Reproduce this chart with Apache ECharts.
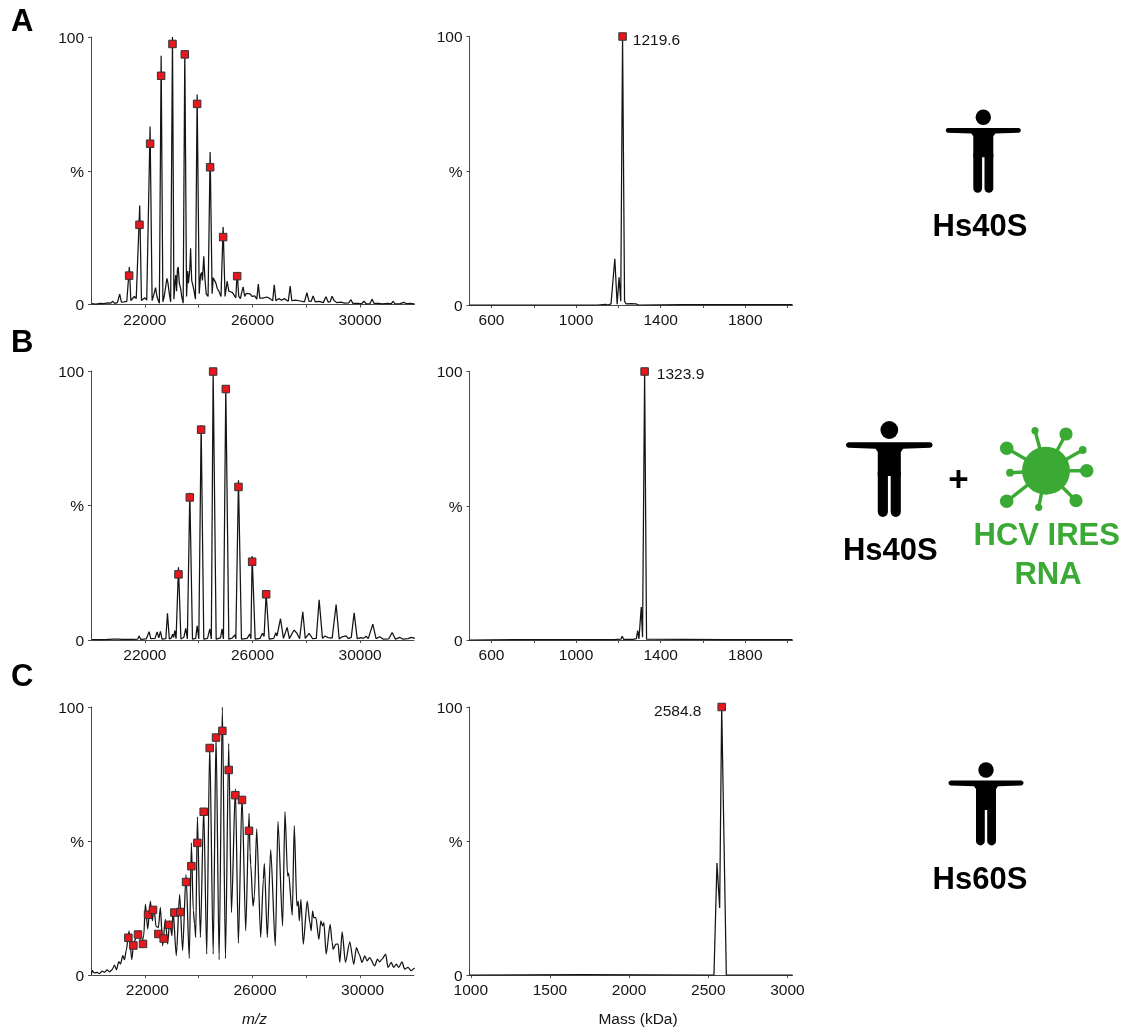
<!DOCTYPE html>
<html><head><meta charset="utf-8">
<style>html,body{margin:0;padding:0;background:#fff}#c{width:1125px;height:1029px}</style>
<script src="https://cdn.jsdelivr.net/npm/echarts@6/dist/echarts.min.js"></script>
</head><body><div id="c"></div>
<script>
// ---- Mass spectra (m/z, %) ----
const spectrumA = [[20000,.3],[20150,.1],[20300,.4],[20450,.3],[20600,.6],[20700,.5],[20780,1.2],[20850,.4],[20950,.7],[21037,3.9],[21100,.9],[21200,1],[21300,1.2],[21345,1],[21395,14],[21450,1.5],[21520,2],[21580,3],[21650,2.2],[21720,1.5],[21780,37],[21845,1.5],[21900,1.8],[21970,2.5],[22040,1.6],[22100,1],[22165,66.5],[22240,1.5],[22300,3.5],[22370,6.3],[22420,3],[22470,1.5],[22510,.5],[22576,93],[22640,1],[22690,3],[22750,7],[22790,9.8],[22830,8],[22880,4],[22930,1],[22997,100],[23050,2],[23090,8],[23120,11],[23150,5],[23180,13],[23210,14],[23250,8],[23300,6],[23340,3],[23395,.5],[23455,95],[23520,3],[23560,12.5],[23590,8],[23640,13],[23670,21],[23710,9],[23760,7],[23800,5],[23850,2],[23913,78.5],[23990,4],[24040,11],[24080,12],[24110,9],[24160,18],[24200,10],[24250,4],[24320,3],[24396,57],[24470,4],[24510,10],[24560,10],[24610,8],[24660,6],[24720,5],[24800,3],[24879,29],[24950,3],[25028,8.7],[25090,5],[25150,5.5],[25220,4.5],[25290,4],[25350,2.5],[25400,12],[25460,3],[25520,2.2],[25570,4.5],[25622,6.6],[25680,3],[25740,4.2],[25800,3.5],[25880,4],[25950,3],[26050,3.2],[26130,2],[26186,7.6],[26240,2.4],[26350,2.4],[26500,2.8],[26620,2.2],[26720,1.4],[26778,7.4],[26840,1.4],[26950,2.2],[27050,1.6],[27150,2.2],[27300,1.2],[27370,6.9],[27430,1.4],[27560,1.6],[27700,1.4],[27900,1],[27990,4.4],[28070,1.2],[28150,1.2],[28220,3.2],[28300,1],[28450,1.2],[28600,.7],[28700,2.9],[28780,.9],[28860,1.1],[28926,3.1],[29000,1.5],[29100,.7],[29250,.9],[29400,.5],[29540,.6],[29630,1.8],[29700,.4],[29900,.4],[30010,.2],[30110,1.2],[30200,.2],[30330,.3],[30410,2],[30490,.4],[30650,.4],[30800,.2],[31000,.4],[31120,.2],[31190,1.2],[31270,.2],[31450,.3],[31590,.8],[31700,.3],[31850,.4],[32000,.1]];
const markersA = [[21387,10.8],[21771,29.8],[22167,60.1],[22576,85.5],[22997,97.4],[23455,93.5],[23913,75],[24396,51.3],[24879,25.2],[25400,10.6]];

const spectrumB = [[20000,.1],[20500,.1],[20800,.3],[21000,.3],[21060,.7],[21120,.2],[21420,.2],[21480,.7],[21560,.2],[21700,.3],[21760,1.5],[21820,.2],[22020,.4],[22090,1],[22130,3.1],[22190,.5],[22350,.6],[22427,3],[22490,.8],[22550,3.2],[22610,.3],[22750,.5],[22811,9.9],[22880,.4],[22960,.8],[23000,2.2],[23040,1],[23084,3.5],[23130,.5],[23220,27],[23310,.4],[23420,1],[23490,4.3],[23550,.4],[23641,54.7],[23740,.3],[23860,.6],[23913,5.3],[23975,.4],[24062,79.8],[24160,.3],[24300,.6],[24384,4.1],[24440,.4],[24508,100],[24620,.3],[24780,.8],[24842,4.1],[24890,.4],[24978,94],[25090,.3],[25210,.7],[25250,1.1],[25313,1.9],[25350,.4],[25449,59.4],[25560,.3],[25770,.6],[25870,2.2],[25910,.5],[25957,31.2],[26070,.3],[26250,.6],[26340,2.5],[26400,1.3],[26477,17.3],[26590,.3],[26760,.6],[26836,2.7],[26880,1.5],[27010,7.9],[27120,.6],[27257,4.7],[27340,.5],[27450,2.6],[27517,3.7],[27620,2.5],[27720,.5],[27839,10.5],[27930,.6],[28074,2.5],[28200,.5],[28340,.6],[28446,14.9],[28570,.6],[28660,1.5],[28780,.9],[28930,.7],[29077,13.2],[29190,.4],[29300,1.2],[29360,.5],[29450,1.5],[29530,.5],[29640,1],[29746,10.1],[29860,.5],[30000,.9],[30090,.6],[30190,1.4],[30270,.5],[30440,5.9],[30560,.5],[30700,1.2],[30830,.3],[31030,.4],[31158,2.8],[31280,.3],[31440,1],[31560,.3],[31750,.5],[31870,1],[32000,.6]];
const markersB = [[23220,24.4],[23641,53],[24062,78.2],[24508,99.8],[24978,93.3],[25449,56.9],[25957,29.1],[26477,17]];

const spectrumC = [[20000,.4],[20025,1.6],[20111,.8],[20210,1],[20296,.5],[20395,1.4],[20482,1],[20580,1.9],[20667,1.2],[20766,2],[20852,3.7],[20926,2],[21013,5],[21075,4.1],[21161,7.2],[21223,5.7],[21285,9],[21396,16.5],[21494,5.7],[21569,12.2],[21667,14],[21754,16.5],[21840,10.9],[21939,14.6],[22001,26.4],[22087,17.1],[22186,27.6],[22260,20.2],[22322,25.2],[22396,18.1],[22483,17.7],[22557,25.2],[22643,10.9],[22742,20.8],[22828,11.5],[22902,20.2],[22989,14.6],[23026,24.5],[23149,7.2],[23273,30.1],[23384,9.1],[23511,37.5],[23631,6.2],[23709,49.3],[23780,24],[23830,19],[23870,14],[23932,59],[24044,14],[24167,62.3],[24280,7.8],[24390,86],[24520,7.8],[24625,89.6],[24740,5.7],[24860,100],[24975,6.2],[25096,86.4],[25198,23.3],[25344,69.5],[25455,11.9],[25591,66.7],[25728,16.5],[25851,60.3],[25889,45.6],[25914,41.2],[26000,25.7],[26050,29.4],[26136,54.5],[26284,14],[26383,35.6],[26420,41.6],[26531,14],[26655,46.8],[26828,10.9],[26926,57.3],[27099,18.3],[27186,61],[27285,36.9],[27322,38],[27457,22.3],[27532,55.7],[27630,25.7],[27680,27.6],[27717,20.2],[27779,28.2],[27865,11.5],[28013,27.6],[28112,19.5],[28160,16.5],[28211,23.9],[28260,21.4],[28334,21.4],[28445,13.3],[28520,20.2],[28580,18.3],[28631,19.5],[28717,7.8],[28865,18.9],[28940,12.1],[28976,9.6],[29075,11.5],[29162,11.5],[29223,4.7],[29310,16.1],[29433,4.7],[29594,12.4],[29742,4],[29841,10.2],[29940,7.8],[30051,4.7],[30150,7.1],[30236,5.3],[30335,6.5],[30520,3.4],[30619,5.9],[30705,4.9],[30792,5.9],[30928,7.8],[31014,2.8],[31137,4.7],[31224,2.8],[31323,4.1],[31410,2.8],[31533,4.9],[31632,2.2],[31755,2.8],[31879,1.6],[31977,2.4],[32000,2.6]];
const markersC = [[21368,13.9],[21554,11],[21727,15.1],[21913,11.6],[22099,22.5],[22285,24.3],[22483,15.3],[22681,13.6],[22879,18.7],[23077,23.3],[23300,23.5],[23511,34.7],[23709,40.6],[23932,49.3],[24167,60.9],[24390,84.7],[24625,88.6],[24860,91.1],[25096,76.5],[25344,67.1],[25591,65.3],[25851,53.8]];

// ---- Deconvolved spectra (mass, %) ----
const massA = [[496,0],[1100,0],[1140,.2],[1150,0],[1165,.4],[1172,0],[1183,17.2],[1194,.3],[1203,10.3],[1211,1.4],[1219.6,100],[1229,1.5],[1236,.4],[1245,.2],[1260,.5],[1268,.1],[1283,.4],[1295,0],[1500,.1],[1800,.1],[2023,.1]];
const massB = [[496,0],[700,.1],[1180,.1],[1212,.3],[1218,1.4],[1225,.2],[1270,.2],[1285,.5],[1291,3.5],[1297,.4],[1303,1],[1308,12.3],[1314,1],[1323.9,100],[1333,.3],[1342,.1],[1700,.1],[2023,.1]];
const massC = [[992,0],[1700,.1],[2536,0],[2555,41.8],[2572,25],[2584.8,100],[2614,0],[3032,0]];
const peakA = [[1219.6,100]];
const peakB = [[1323.9,100]];
const peakC = [[2584.8,100]];

// ---- Axis ticks and text ----
const mzTicks = [22000,24000,26000,28000,30000];
const mzLabels = [22000,26000,30000];
const massTicksAB = [600,800,1000,1200,1400,1600,1800,2000];
const massLabelsAB = [600,1000,1400,1800];
const massTicksC = [1000,1500,2000,2500,3000];
const pctTicks = [0,50,100];
const pctText = {0:'0',50:'%',100:'100'};

const FONT = '"Liberation Sans", Arial, sans-serif';
const INK = '#141414', AXIS = '#4a4a4a', RED = '#e8161d', GREEN = '#3aaa35';

// calibration of the read m/z values against the printed ticks
const cal = (rows,d)=>rows.map(r=>[r[0]+d,r[1]]);

const panels = [
  {l:91,t:37,h:267.5,min:20000,max:32000,ticks:mzTicks,labels:mzLabels,line:cal(spectrumA,30),marks:cal(markersA,30)},
  {l:469.5,t:36.5,h:268.5,min:496,max:2023,ticks:massTicksAB,labels:massLabelsAB,line:massA,marks:peakA,text:{pos:'right',off:[0,4]}},
  {l:91,t:371,h:269,min:20000,max:32000,ticks:mzTicks,labels:mzLabels,line:cal(spectrumB,30),marks:cal(markersB,30),clip:true},
  {l:469.5,t:371.5,h:268.5,min:496,max:2023,ticks:massTicksAB,labels:massLabelsAB,line:massB,marks:peakB,text:{pos:'right',off:[2,3]}},
  {l:91,t:707,h:269,min:20000,max:32000,ticks:mzTicks,labels:mzLabels,line:cal(spectrumC,20),marks:cal(markersC,20),shift:5,name:'m/z',italic:true,namePad:4,smooth:.25},
  {l:469.5,t:707,h:269,min:992,max:3032,ticks:massTicksC,labels:massTicksC,line:massC,marks:peakC,text:{pos:'left',off:[-10,5]},name:'Mass (kDa)',namePad:14}
];

const grid=[],xAxis=[],yAxis=[],series=[];
panels.forEach((p,i)=>{
  grid.push({left:p.l,top:p.t,width:323,height:p.h});
  xAxis.push({gridIndex:i,type:'value',min:p.min,max:p.max,
    name:p.name||'',nameLocation:'middle',nameGap:37,
    nameTextStyle:{fontFamily:FONT,fontSize:15.5,color:INK,fontStyle:p.italic?'italic':'normal',padding:[0,0,0,p.namePad||0]},
    axisLine:{onZero:false,lineStyle:{color:AXIS,width:1}},
    axisTick:{length:3,lineStyle:{color:AXIS,width:1},customValues:p.ticks},
    axisLabel:{fontFamily:FONT,fontSize:15.5,color:INK,margin:8,customValues:p.labels,showMinLabel:true,showMaxLabel:true,
      padding:[0,0,0,p.shift||0],formatter:v=>String(v)},
    splitLine:{show:false}});
  yAxis.push({gridIndex:i,type:'value',min:0,max:100,
    axisLine:{onZero:false,show:true,lineStyle:{color:AXIS,width:1}},
    axisTick:{show:true,length:3,lineStyle:{color:AXIS,width:1},customValues:pctTicks},
    axisLabel:{fontFamily:FONT,fontSize:15.5,color:INK,margin:7,verticalAlign:'top',lineHeight:3,customValues:pctTicks,formatter:v=>pctText[v]},
    splitLine:{show:false}});
  series.push({type:'line',xAxisIndex:i,yAxisIndex:i,data:p.line,symbol:'none',silent:true,sampling:'none',
    smooth:p.smooth||false,smoothMonotone:p.smooth?'x':undefined,
    lineStyle:{color:INK,width:1.25},z:2,clip:true});
  series.push({type:'scatter',xAxisIndex:i,yAxisIndex:i,data:p.marks,symbol:'rect',symbolSize:7.5,silent:true,clip:!!p.clip,
    itemStyle:{color:RED,borderColor:'#333',borderWidth:1,opacity:1},z:3,
    label:p.text?{show:true,position:p.text.pos,distance:6,offset:p.text.off,fontFamily:FONT,fontSize:15.5,color:INK,formatter:o=>String(o.value[0])}:{show:false}});
});

// ---- Icons and side captions (decoration) ----
function person(cx,cy,s){
  const fill={fill:'#000'};
  return {type:'group',x:cx,y:cy,scaleX:s,scaleY:s,silent:true,children:[
    {type:'circle',shape:{cx:0,cy:0,r:7.7},style:fill},
    {type:'polygon',shape:{points:[[-35.5,10.6],[35.5,10.6],[37,11.4],[37.6,13],[37,14.6],[35.5,15.4],[12,16.2],[10,19],[10,40],[-10,40],[-10,19],[-12,16.2],[-35.5,15.4],[-37,14.6],[-37.6,13],[-37,11.4]]},style:fill},
    {type:'rect',shape:{x:-10,y:36,width:8.8,height:39.4,r:[0,0,4.4,4.4]},style:fill},
    {type:'rect',shape:{x:1.2,y:36,width:8.8,height:39.4,r:[0,0,4.4,4.4]},style:fill}
  ]};
}
const virusCentre=[1046,470.7], virusR=24;
const virusBlobs=[[1035,430.7,3.6],[1066,434,6.6],[1082.7,450,3.9],[1086.7,470.7,6.8],[1076,500.7,6.6],[1038.7,507.3,3.6],[1006.7,501.3,6.8],[1010,472.7,3.9],[1006.7,448.3,6.8]];
const virus=[{type:'circle',silent:true,shape:{cx:virusCentre[0],cy:virusCentre[1],r:virusR},style:{fill:GREEN}}];
virusBlobs.forEach(b=>{
  virus.push({type:'line',silent:true,shape:{x1:virusCentre[0],y1:virusCentre[1],x2:b[0],y2:b[1]},style:{stroke:GREEN,lineWidth:3.4}});
  virus.push({type:'circle',silent:true,shape:{cx:b[0],cy:b[1],r:b[2]},style:{fill:GREEN}});
});
function cap(t,x,y,color,size,align){
  return {type:'text',silent:true,x,y,style:{text:t,fill:color||'#000',font:'bold '+(size||31)+'px '+FONT,textAlign:align||'center',textVerticalAlign:'middle'}};
}
const graphic=[
  cap('A',11,22.5,'#000',31,'left'),cap('B',11,343,'#000',31,'left'),cap('C',11,677,'#000',31,'left'),
  person(983.3,117.3,1),person(889.3,430,1.153),person(986,770,1),
  cap('Hs40S',980,227),cap('Hs40S',890.3,551),cap('Hs60S',980,880),
  cap('+',958.5,481,'#000',35),
  ...virus,
  cap('HCV IRES',1046.7,536,GREEN),cap('RNA',1048,575,GREEN)
];

const chart=echarts.init(document.getElementById('c'),null,{renderer:'canvas'});
chart.setOption({animation:false,backgroundColor:'#fff',tooltip:{show:false},grid,xAxis,yAxis,series,graphic:{elements:graphic}});
</script></body></html>
